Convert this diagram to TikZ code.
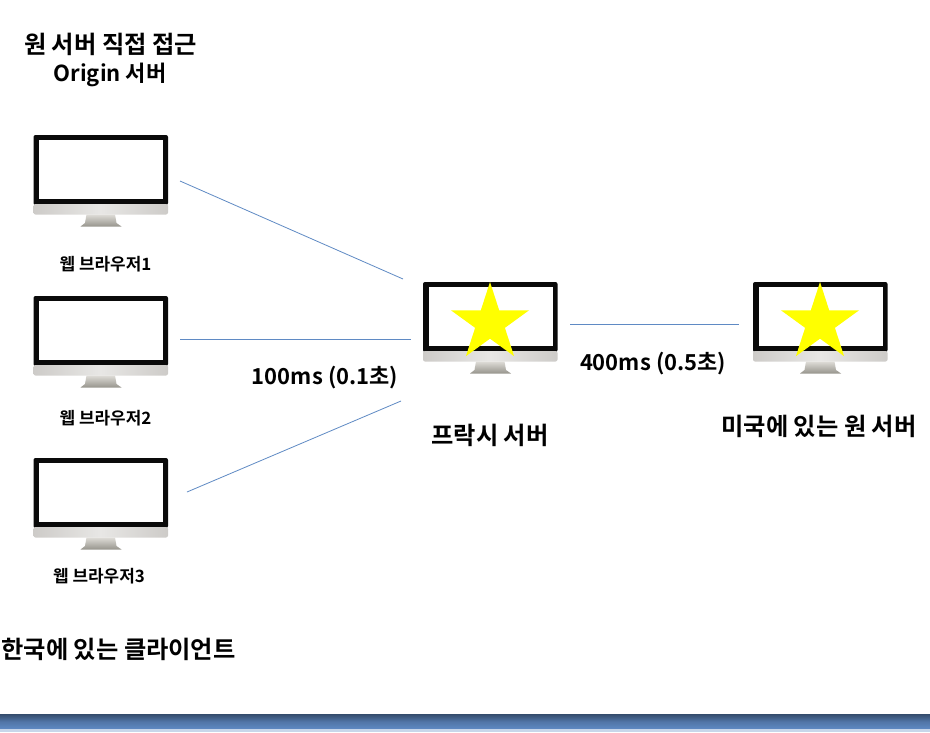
\documentclass[tikz,border=0pt]{standalone}
\usepackage{fontspec}
\setmainfont{Noto Sans CJK KR}[BoldFont={* Bold}]
\usetikzlibrary{shapes.geometric}
\definecolor{lnk}{RGB}{95,138,196}
\definecolor{yel}{RGB}{255,255,0}
\definecolor{frm}{RGB}{10,10,10}
\definecolor{silA}{RGB}{205,203,200}
\definecolor{silB}{RGB}{232,231,229}
\definecolor{stA}{RGB}{222,220,215}
\definecolor{stB}{RGB}{150,148,140}
\tikzset{
  lbl/.style={font=\bfseries\fontsize{16.5}{20}\selectfont,inner sep=0pt,align=center,text=black},
  big/.style={font=\bfseries\fontsize{18.2}{23}\selectfont,inner sep=0pt,align=center,text=black},
  small/.style={font=\bfseries\fontsize{12.7}{15}\selectfont,inner sep=0pt,text=black},
  conn/.style={draw=lnk,line width=0.6pt},
  starshape/.style={star,star points=5,star point ratio=2.618,fill=yel,draw=none,inner sep=0pt,minimum size=61.5pt},
  pics/monitor/.style={code={
    \fill[frm,rounded corners=1.5pt] (0,0) rectangle (134.5,70);
    \fill[white] (5.5,4.5) rectangle (129.5,64);
    \shade[left color=silA,right color=silA,middle color=silB,rounded corners=1.5pt] (0,69) rectangle (134.5,79.5);
    \shade[top color=stA,bottom color=stB] (53,79.5) -- (81.5,79.5) -- (83,88) -- (88,91.5) -- (47,91.5) -- (51.5,88) -- cycle;
  }}
}
\begin{document}
\begin{tikzpicture}[x=0.75pt,y=-0.75pt]
\useasboundingbox (0,0) rectangle (930,732);
\fill[white] (0,0) rectangle (930,732);
\pic at (33.5,135) {monitor};
\pic at (33.5,296) {monitor};
\pic at (33.5,458) {monitor};
\pic at (423,282) {monitor};
\pic at (753,282) {monitor};
\node[starshape] (s1) at (490,323) {};
\node[starshape] (s2) at (820,323) {};
\coordinate (a1) at (180,181);
\coordinate (b1) at (403,279);
\coordinate (a2) at (180,339.5);
\coordinate (b2) at (411,339.5);
\coordinate (a3) at (187,492);
\coordinate (b3) at (401,401);
\coordinate (c1) at (570,324.5);
\coordinate (c2) at (739,324.5);
\draw[conn] (a1) -- (b1);
\draw[conn] (a2) -- (b2);
\draw[conn] (a3) -- (b3);
\draw[conn] (c1) -- (c2);
\node[big] (t1) at (110.5,44) {원 서버 직접 접근};
\node[lbl] (t2) at (110,75) {Origin 서버};
\node[small] (w1) at (105.5,264) {웹 브라우저1};
\node[small] (w2) at (105.5,418) {웹 브라우저2};
\node[small] (w3) at (99,576) {웹 브라우저3};
\node[lbl] (d1) at (325,378) {100ms (0.1초)};
\node[lbl] (d2) at (653,364) {400ms (0.5초)};
\node[big] (p) at (490,435) {프락시 서버};
\node[big] (o) at (819,426) {미국에 있는 원 서버};
\node[big] (k) at (118.5,649) {한국에 있는 클라이언트};
\shade[top color=lnk!55!black,bottom color=lnk,middle color=lnk!85!black] (0,714) rectangle (930,729);
\fill[lnk!35!white] (0,729) rectangle (930,732);
\end{tikzpicture}
\end{document}
